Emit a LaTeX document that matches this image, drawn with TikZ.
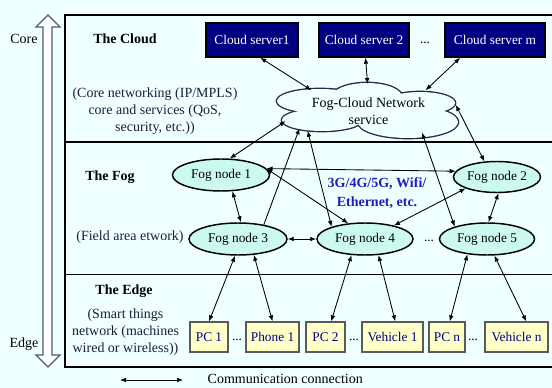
\documentclass[tikz,border=0pt]{standalone}
\usepackage{fontspec}
\setmainfont{Liberation Serif}
\usetikzlibrary{shapes.geometric,arrows.meta}
\definecolor{bgc}{RGB}{240,255,255}
\definecolor{navy}{RGB}{0,0,128}
\definecolor{fogfill}{RGB}{205,250,238}
\definecolor{edgefill}{RGB}{255,255,200}
\definecolor{boxborder}{RGB}{90,90,90}
\definecolor{desc}{RGB}{30,30,60}
\definecolor{netblue}{RGB}{30,30,190}
\definecolor{bigarrow}{RGB}{80,90,115}
\definecolor{cloudline}{RGB}{40,40,70}
\begin{document}
\begin{tikzpicture}[x=0.75pt,y=-0.75pt,
  every node/.style={font=\fontsize{10}{12}\selectfont},
  server/.style={draw=black,line width=1.1pt,fill=navy,text=white,minimum height=25.5pt,inner sep=1pt},
  fognode/.style={ellipse,draw=black,line width=1.1pt,fill=fogfill,minimum height=24pt,inner sep=0pt},
  edgebox/.style={draw=boxborder,line width=0.9pt,fill=edgefill,text=navy,minimum height=22.5pt,inner sep=1pt},
  desctext/.style={text=desc,align=center,font=\fontsize{10.5}{12.75}\selectfont},
  heading/.style={font=\fontsize{10.5}{12}\selectfont\bfseries},
  conn/.style={draw=black,line width=0.65pt,{Latex[length=4.5pt,width=3.5pt]}-{Latex[length=4.5pt,width=3.5pt]}},
  conn1/.style={draw=black,line width=0.65pt,-{Latex[length=4.5pt,width=3.5pt]}},
  frame/.style={draw=black,line width=0.8pt},
  lobe/.style={draw=cloudline,line width=2pt}]
\useasboundingbox[fill=bgc] (0,0) rectangle (552,388);

% frame
\draw[frame] (552,15) -- (65,15) -- (65,367) -- (552,367);
\draw[frame] (65,142) -- (552,142);
\draw[frame] (65,274.5) -- (552,274.5);

% big core/edge arrow
\draw[draw=bigarrow,line width=0.9pt,fill=white] (48,15) -- (60,27) -- (52,27) -- (52,355) -- (60,355) -- (48,367) -- (36,355) -- (43,355) -- (43,27) -- (36,27) -- cycle;
\node (core) at (24,39) {\fontsize{10.5}{12}\selectfont Core};
\node (edge) at (24,344) {\fontsize{10.5}{12}\selectfont Edge};

% section texts
\node[heading] (thecloud) at (125,39) {The Cloud};
\node[desctext] (cloudtxt) at (155,111) {(Core networking (IP/MPLS)\\core and services (QoS,\\security, etc.))};
\node[heading] (thefog) at (110,177) {The Fog};
\node[desctext] (fogtxt) at (130,237) {(Field area etwork)};
\node[heading] (theedge) at (124,291) {The Edge};
\node[desctext] (edgetxt) at (125.5,332) {(Smart things\\network (machines\\wired or wireless))};

% cloud servers
\node[server,minimum width=69pt] (cs1) at (252,40) {Cloud server1};
\node[server,minimum width=67.5pt] (cs2) at (364,40) {Cloud server 2};
\node (dots1) at (425,43) {...};
\node[server,minimum width=75pt] (csm) at (495,40) {Cloud server m};

% network cloud: union of ellipses
\begin{scope}
  \draw[lobe] (320,101) ellipse [x radius=43, y radius=12];
  \draw[lobe] (367,97) ellipse [x radius=35, y radius=14];
  \draw[lobe] (420,103) ellipse [x radius=35, y radius=11];
  \draw[lobe] (322,120) ellipse [x radius=40, y radius=11];
  \draw[lobe] (408,122) ellipse [x radius=50, y radius=16];
  \fill[bgc] (320,101) ellipse [x radius=43, y radius=12];
  \fill[bgc] (367,97) ellipse [x radius=35, y radius=14];
  \fill[bgc] (420,103) ellipse [x radius=35, y radius=11];
  \fill[bgc] (322,120) ellipse [x radius=40, y radius=11];
  \fill[bgc] (408,122) ellipse [x radius=50, y radius=16];
  \fill[bgc] (330,100) rectangle (420,125);
\end{scope}
\node[ellipse,draw=none,minimum width=134pt,minimum height=40pt,inner sep=0pt,align=center,font=\fontsize{10.5}{12.5}\selectfont] (cloud) at (368.5,111) {Fog-Cloud Network\\service};

% fog nodes
\node[fognode,minimum width=72.75pt] (f1) at (221,175) {Fog node 1};
\node[fognode,minimum width=65.25pt,minimum height=23.25pt] (f2) at (497,177) {Fog node 2};
\node[fognode,minimum width=73.5pt] (f3) at (238,239) {Fog node 3};
\node[fognode,minimum width=72pt] (f4) at (365,239) {Fog node 4};
\node (dots2) at (429,241) {...};
\node[fognode,minimum width=71.25pt] (f5) at (487,239) {Fog node 5};
\node[text=netblue,align=center,font=\fontsize{10.5}{14}\selectfont\bfseries] (net) at (377,193) {3G/4G/5G, Wifi/\\Ethernet, etc.};

% edge devices
\node[edgebox,minimum width=28.5pt] (pc1) at (209,337) {PC 1};
\node (dots3) at (237,340) {...};
\node[edgebox,minimum width=39.75pt] (ph1) at (272.5,337) {Phone 1};
\node[edgebox,minimum width=29.25pt] (pc2) at (325.5,337) {PC 2};
\node (dots4) at (354,340) {...};
\node[edgebox,minimum width=45.75pt] (v1) at (392.5,337) {Vehicle 1};
\node[edgebox,minimum width=27pt] (pcn) at (447,337) {PC n};
\node (dots5) at (473,340) {...};
\node[edgebox,minimum width=47.25pt] (vn) at (516.5,337) {Vehicle n};

% connectors: cloud level
\draw[conn] (cs1.-65) -- (cloud.160);
\draw[conn] (cs2.-85) -- (cloud.92);
\draw[conn] (csm.207) -- (cloud.20);
\draw[conn] (cloud.187) -- (f1.62);
\draw[conn1] (f3.29) -- (cloud.194);
\draw[conn] (cloud.198) -- (f4.160);
\draw[conn] (cloud.338) -- (f5.159);
\draw[conn] (cloud.4) -- (f2.129);

% fog level
\draw[conn] (f1.8) -- (f2.172);
\draw[conn] (f1.-55) -- (f3.80);
\draw[conn] (f1.8) -- (f4.137);
\draw[conn] (f2.200) -- (f4.25);
\draw[conn] (f2.-85) -- (f5.85);
\draw[conn] (f3.east) -- (f4.west);

% edge level
\draw[conn] (f3.-100) -- (pc1.north);
\draw[conn] (f3.-45) -- (ph1.north);
\draw[conn] (f4.230) -- (pc2.70);
\draw[conn] (f4.-50) -- (v1.80);
\draw[conn] (f5.218) -- (pcn.80);
\draw[conn] (f5.-66) -- (vn.58);

% legend
\coordinate (lga) at (120,380);
\coordinate (lgb) at (183,380);
\draw[conn] (lga) -- (lgb);
\node[anchor=west,font=\fontsize{10.5}{12}\selectfont] (lgtxt) at (203,379) {Communication connection};
\end{tikzpicture}
\end{document}
